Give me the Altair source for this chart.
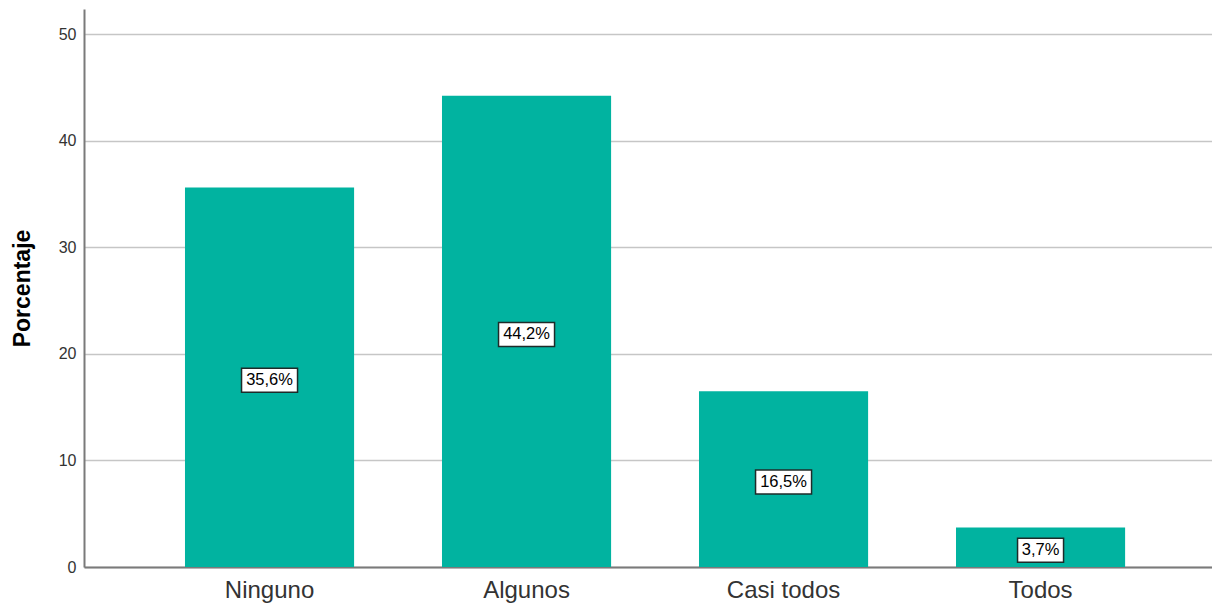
import altair as alt
import pandas as pd

categories = ["Ninguno", "Algunos", "Casi todos", "Todos"]
values = [35.6, 44.2, 16.5, 3.7]
labels = ["35,6%", "44,2%", "16,5%", "3,7%"]

df = pd.DataFrame({"cat": categories, "val": values, "lab": labels})
df["mid"] = df["val"] / 2
df["box"] = ["long" if len(s) > 4 else "short" for s in df["lab"]]

FONT = "Liberation Sans"
TEAL = "#01b3a0"

x = alt.X(
    "cat:N",
    sort=categories,
    title=None,
    scale=alt.Scale(paddingInner=0.342, paddingOuter=0.3655, align=0.5375),
    axis=alt.Axis(
        labelAngle=0, labelFontSize=24, labelColor="#333333", labelFont=FONT,
        ticks=False, domainColor="#7a7a7a", domainWidth=2, labelPadding=11,
        grid=False,
    ),
)

ydom = alt.Scale(domain=[0, 52.35], nice=False)

bars = alt.Chart(df).mark_bar(color=TEAL).encode(
    x=x,
    y=alt.Y(
        "val:Q",
        scale=ydom,
        title="Porcentaje",
        axis=alt.Axis(
            values=[0, 10, 20, 30, 40, 50], ticks=False,
            labelFontSize=16, labelColor="#333333", labelFont=FONT,
            labelPadding=8, domainColor="#7a7a7a", domainWidth=2,
            gridColor="#c6c6c6", gridWidth=1.5,
            titleFontSize=23, titleFont=FONT, titleFontWeight="bold",
            titleColor="#000000", titlePadding=24,
        ),
    ),
)

boxes = alt.Chart(df).mark_point(
    filled=True, fill="white", stroke="#1e2b29", strokeWidth=1.5, size=4,
    opacity=1, yOffset=3,
).encode(
    x=alt.X("cat:N", sort=categories),
    y=alt.Y("mid:Q", scale=ydom),
    shape=alt.Shape(
        "box:N",
        scale=alt.Scale(
            domain=["long", "short"],
            range=["M-28,-12H28V12H-28Z", "M-23,-12H23V12H-23Z"],
        ),
        legend=None,
    ),
)

texts = alt.Chart(df).mark_text(
    fontSize=16.5, font=FONT, color="#000000", baseline="middle", align="center",
    yOffset=3,
).encode(
    x=alt.X("cat:N", sort=categories),
    y=alt.Y("mid:Q", scale=ydom),
    text="lab:N",
)

chart = (
    alt.layer(bars, boxes, texts)
    .properties(
        width=1128,
        height=558,
        autosize=alt.AutoSizeParams(type="none"),
        padding={"left": 76, "top": 1, "right": 0, "bottom": 38},
        view=alt.ViewBackground(stroke="transparent", strokeWidth=0),
    )
    .configure_view(stroke="transparent", strokeWidth=0)
    .configure(background="white")
)

chart.save("out.html", embed_options={"renderer": "svg", "actions": False})
